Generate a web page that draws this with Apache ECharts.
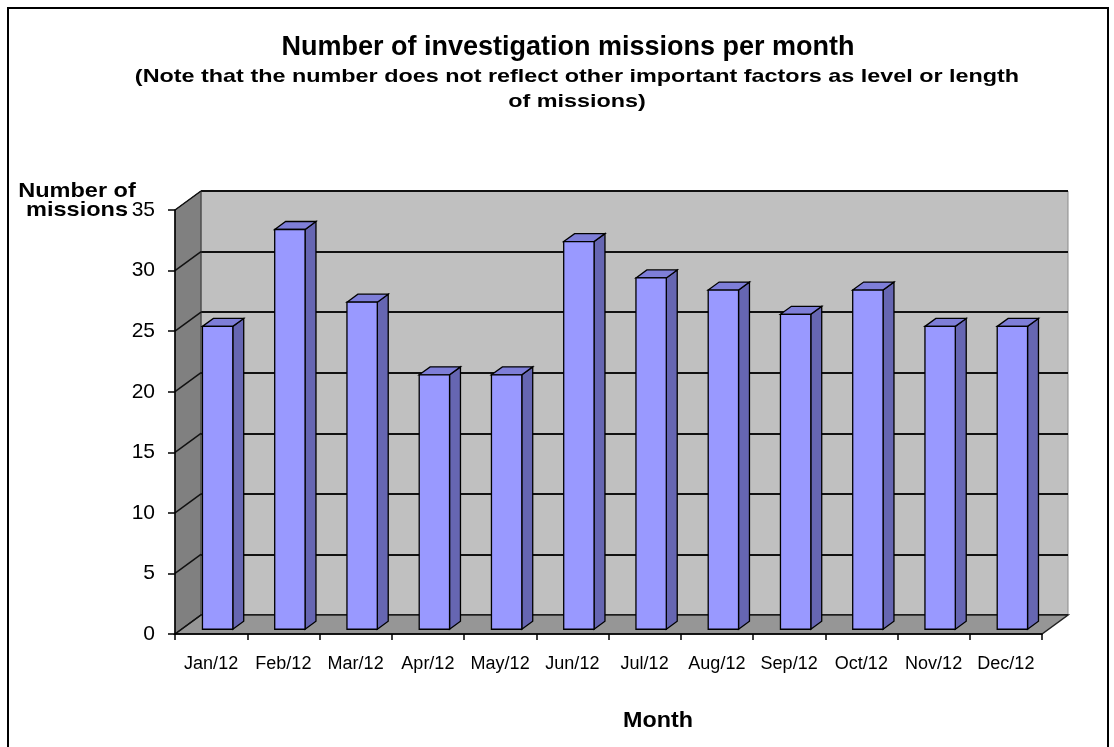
<!DOCTYPE html>
<html>
<head>
<meta charset="utf-8">
<title>Number of investigation missions per month</title>
<script src="https://cdn.jsdelivr.net/npm/echarts@6/dist/echarts.min.js"></script>
<style>
html, body { margin: 0; padding: 0; background: #fff; }
#main { width: 1114px; height: 747px; }
</style>
</head>
<body>
<div id="main"></div>
<script>
// data
var months = ['Jan/12', 'Feb/12', 'Mar/12', 'Apr/12', 'May/12', 'Jun/12',
              'Jul/12', 'Aug/12', 'Sep/12', 'Oct/12', 'Nov/12', 'Dec/12'];
var missions = [25, 33, 27, 21, 21, 32, 29, 28, 26, 28, 25, 25];
var yTicks = [0, 5, 10, 15, 20, 25, 30, 35];

var titleText = 'Number of investigation missions per month';
var noteText = '(Note that the number does not reflect other important factors as level or length\nof missions)';
var yName = 'Number of\nmissions';
var xName = 'Month';

// fake 3d box: how far the back wall sits from the front edge
var DX = 26, DY = -19;
var BAR_FRONT = 0.25, BAR_BACK = 0.67;  // bar depth, as part of the box depth
var BAR_W = 0.42;                       // bar width, as part of the category
var FONT = '"Liberation Sans", Arial, sans-serif';

var chart = echarts.init(document.getElementById('main'));

function wallsItem(params, api) {
    var band = api.size([1, 0])[0];
    var a = api.coord([0, 0]);
    var b = api.coord([months.length - 1, 0]);
    var xL = a[0] - band / 2, xR = b[0] + band / 2, yB = a[1];
    var yT = api.coord([0, yTicks[yTicks.length - 1]])[1];
    var kids = [];
    // left wall
    kids.push({
        type: 'polygon',
        shape: { points: [[xL, yB], [xL, yT], [xL + DX, yT + DY], [xL + DX, yB + DY]] },
        style: { fill: '#808080', stroke: '#333', lineWidth: 1 }
    });
    // floor
    kids.push({
        type: 'polygon',
        shape: { points: [[xL, yB], [xL + DX, yB + DY], [xR + DX, yB + DY], [xR, yB]] },
        style: { fill: '#969696', stroke: '#222', lineWidth: 1.5 }
    });
    // grid lines running across the left wall
    yTicks.forEach(function (v) {
        var y = api.coord([0, v])[1];
        kids.push({
            type: 'line',
            shape: { x1: xL, y1: y, x2: xL + DX, y2: y + DY },
            style: { stroke: '#111', lineWidth: 1.5 }
        });
    });
    return { type: 'group', children: kids };
}

function barItem(params, api) {
    var i = api.value(0), v = api.value(1);
    var band = api.size([1, 0])[0];
    var base = api.coord([i, 0]);
    var top = api.coord([i, v]);
    var w = band * BAR_W;
    var xl = base[0] - w / 2 + DX * BAR_FRONT;
    var xr = xl + w;
    var yb = base[1] + DY * BAR_FRONT;
    var yt = top[1] + DY * BAR_FRONT;
    var ddx = DX * (BAR_BACK - BAR_FRONT), ddy = DY * (BAR_BACK - BAR_FRONT);
    var line = { stroke: '#000', lineWidth: 1.3 };
    return {
        type: 'group',
        children: [
            {
                type: 'polygon',
                shape: { points: [[xr, yt], [xr + ddx, yt + ddy], [xr + ddx, yb + ddy], [xr, yb]] },
                style: Object.assign({ fill: '#6666B2' }, line)
            },
            {
                type: 'polygon',
                shape: { points: [[xl, yt], [xl + ddx, yt + ddy], [xr + ddx, yt + ddy], [xr, yt]] },
                style: Object.assign({ fill: '#7E7ED8' }, line)
            },
            {
                type: 'rect',
                shape: { x: xl, y: yt, width: w, height: yb - yt },
                style: Object.assign({ fill: '#9999FF' }, line)
            }
        ]
    };
}

var option = {
    animation: false,
    backgroundColor: '#fff',
    grid: [
        // front edge of the box
        { left: 175, right: 72, top: 210, bottom: 113 },
        // back wall
        { left: 175 + DX, right: 72 - DX, top: 210 + DY, bottom: 113 - DY,
          show: true, backgroundColor: '#C0C0C0', borderColor: '#8a8a8a', borderWidth: 1 }
    ],
    xAxis: [
        {
            gridIndex: 0, type: 'category', data: months, z: 10,
            axisLine: { lineStyle: { color: '#000', width: 1.5 } },
            axisTick: { show: true, length: 6, lineStyle: { color: '#000', width: 1.5 } },
            axisLabel: { interval: 0, margin: 21, color: '#000', fontSize: 18, fontFamily: FONT },
            splitLine: { show: false }
        },
        {
            gridIndex: 1, type: 'category', data: months,
            axisLine: { show: false }, axisTick: { show: false }, axisLabel: { show: false },
            splitLine: { show: false }
        }
    ],
    yAxis: [
        {
            gridIndex: 0, type: 'value', min: 0, max: 35, interval: 5, z: 10,
            axisLine: { show: true, lineStyle: { color: '#000', width: 1.5 } },
            axisTick: { show: true, length: 7, lineStyle: { color: '#000', width: 1.5 } },
            axisLabel: { margin: 20, color: '#000', fontSize: 21, fontFamily: FONT },
            splitLine: { show: false }
        },
        {
            gridIndex: 1, type: 'value', min: 0, max: 35, interval: 5,
            axisLine: { show: false }, axisTick: { show: false }, axisLabel: { show: false },
            splitLine: { show: true, lineStyle: { color: '#111', width: 2 } }
        }
    ],
    series: [
        {
            type: 'custom', name: 'walls', xAxisIndex: 0, yAxisIndex: 0, z: 1, silent: true,
            renderItem: wallsItem, data: [[0, 0]]
        },
        {
            type: 'custom', name: 'missions', xAxisIndex: 0, yAxisIndex: 0, z: 3, silent: true,
            renderItem: barItem,
            encode: { x: 0, y: 1 },
            data: missions.map(function (v, i) { return [i, v]; })
        }
    ],
    graphic: [
        {
            type: 'rect', z: 100, silent: true,
            shape: { x: 8, y: 8, width: 1100, height: 760 },
            style: { fill: 'none', stroke: '#000', lineWidth: 2 }
        },
        {
            type: 'text', x: 568, y: 48,
            style: { text: titleText, font: 'bold 27px ' + FONT, fill: '#000', align: 'center', verticalAlign: 'middle' }
        },
        {
            type: 'text', x: 577, y: 89, scaleX: 1.23,
            style: { text: noteText, font: 'bold 19px ' + FONT, lineHeight: 25, fill: '#000', align: 'center', verticalAlign: 'middle' }
        },
        {
            type: 'text', x: 77, y: 201, scaleX: 1.12,
            style: { text: yName, font: 'bold 21px ' + FONT, lineHeight: 19, fill: '#000', align: 'center', verticalAlign: 'middle' }
        },
        {
            type: 'text', x: 658, y: 721, scaleX: 1.06,
            style: { text: xName, font: 'bold 22px ' + FONT, fill: '#000', align: 'center', verticalAlign: 'middle' }
        }
    ]
};

chart.setOption(option);
</script>
</body>
</html>
